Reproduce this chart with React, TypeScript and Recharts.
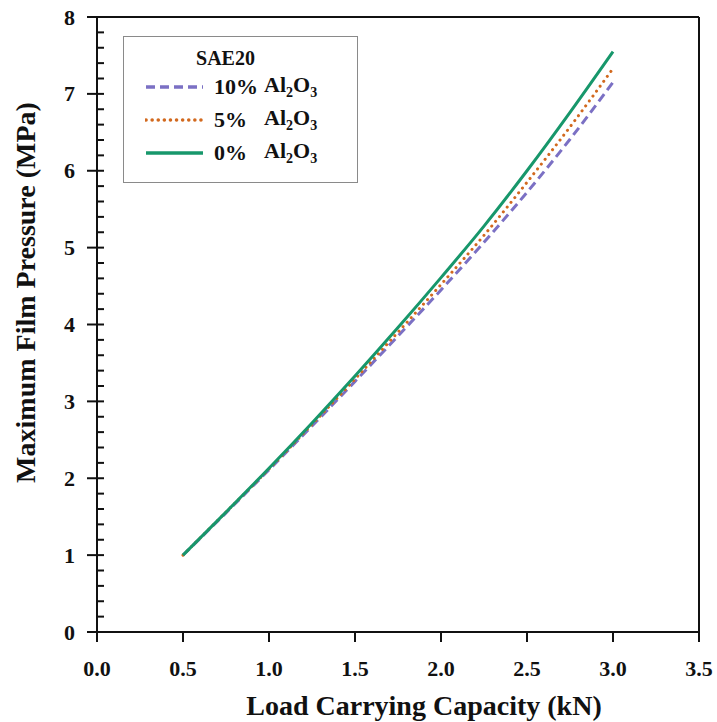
import React from 'react';
import { LineChart, Line, XAxis, YAxis, ReferenceLine } from 'recharts';

// load carrying capacity (kN)
const loads = [0.5, 0.75, 1.0, 1.25, 1.5, 1.75, 2.0, 2.25, 2.5, 2.75, 3.0];
// maximum film pressure (MPa) for each nanoparticle concentration
const p10 = [1.0, 1.55, 2.11, 2.68, 3.26, 3.85, 4.45, 5.07, 5.72, 6.41, 7.15];
const p5 = [1.0, 1.56, 2.12, 2.7, 3.29, 3.9, 4.52, 5.16, 5.85, 6.57, 7.33];
const p0 = [1.0, 1.56, 2.13, 2.72, 3.33, 3.96, 4.61, 5.28, 6.0, 6.76, 7.55];

const xTicks = [0, 0.5, 1.0, 1.5, 2.0, 2.5, 3.0, 3.5];
// y ticks every 0.2, labelled at whole numbers
const yTicks = [
  0, 0.2, 0.4, 0.6, 0.8, 1, 1.2, 1.4, 1.6, 1.8, 2, 2.2, 2.4, 2.6, 2.8, 3, 3.2, 3.4, 3.6, 3.8, 4,
  4.2, 4.4, 4.6, 4.8, 5, 5.2, 5.4, 5.6, 5.8, 6, 6.2, 6.4, 6.6, 6.8, 7, 7.2, 7.4, 7.6, 7.8, 8,
];

const seriesNames = ['10%', '5%', '0%'];
const colors = ['#7b70c4', '#d2691e', '#17976b'];
const dashes = ['9 5', '0.1 6', undefined];

const data = loads.map((load, i) => ({ load, p10: p10[i], p5: p5[i], p0: p0[i] }));

const FONT = '"Liberation Serif", "Times New Roman", serif';
const AXIS = '#111';
const TICK_SIZE = 10;
const TICK_MARGIN = 12;

function LegendBox() {
  return (
    <div
      style={{
        position: 'absolute',
        left: 123,
        top: 36,
        width: 235,
        height: 147,
        border: '1px solid #8a8a8a',
        boxSizing: 'border-box',
        fontFamily: FONT,
        fontWeight: 'bold',
        color: '#111',
        background: '#fff',
      }}
    >
      <div style={{ fontSize: 20, textAlign: 'center', paddingTop: 9, paddingRight: 30, lineHeight: '24px' }}>
        SAE20
      </div>
      {seriesNames.map((name, i) => (
        <div key={name} style={{ display: 'flex', alignItems: 'center', height: 33 }}>
          <svg width={60} height={10} style={{ marginLeft: 21 }}>
            <line
              x1={1}
              y1={5}
              x2={58}
              y2={5}
              stroke={colors[i]}
              strokeWidth={3.5}
              strokeDasharray={dashes[i]}
              strokeLinecap={i === 1 ? 'round' : 'butt'}
            />
          </svg>
          <span style={{ fontSize: 22, marginLeft: 9, width: 50, display: 'inline-block' }}>{name}</span>
          <span style={{ fontSize: 22 }}>
            Al<sub style={{ fontSize: 14 }}>2</sub>O<sub style={{ fontSize: 14 }}>3</sub>
          </span>
        </div>
      ))}
    </div>
  );
}

// draws the y tick line itself: whole numbers get a crossing tick and a label, the rest a short inner tick
const YTick = ({ x, y, payload }: any) => {
  const axisX = x + TICK_SIZE + TICK_MARGIN;
  const major = Math.abs(payload.value - Math.round(payload.value)) < 1e-6;
  return (
    <g>
      {major ? (
        <line x1={axisX - TICK_SIZE} y1={y} x2={axisX + 7} y2={y} stroke={AXIS} strokeWidth={2} />
      ) : (
        <line x1={axisX} y1={y} x2={axisX + 7} y2={y} stroke={AXIS} strokeWidth={2} />
      )}
      {major && (
        <text
          x={x}
          y={y}
          textAnchor="end"
          dominantBaseline="central"
          fill="#111"
          fontSize={22}
          fontWeight="bold"
          fontFamily={FONT}
        >
          {Math.round(payload.value)}
        </text>
      )}
    </g>
  );
};

const XLabel = ({ viewBox }: any) => (
  <text
    x={viewBox.x + viewBox.width / 2 + 26}
    y={viewBox.y + 83}
    textAnchor="middle"
    fill="#111"
    fontSize={28}
    fontWeight="bold"
    fontFamily={FONT}
  >
    Load Carrying Capacity (kN)
  </text>
);

const YLabel = ({ viewBox }: any) => {
  const cx = viewBox.x + 25;
  const cy = viewBox.y + viewBox.height / 2 - 32;
  return (
    <text
      x={cx}
      y={cy}
      transform={`rotate(-90, ${cx}, ${cy})`}
      textAnchor="middle"
      dominantBaseline="central"
      fill="#111"
      fontSize={28}
      fontWeight="bold"
      fontFamily={FONT}
    >
      Maximum Film Pressure (MPa)
    </text>
  );
};

export default function App() {
  return (
    <div style={{ position: 'absolute', left: 0, top: 0, background: '#fff' }}>
      <LineChart width={717} height={722} data={data} margin={{ top: 17, right: 18, left: 0, bottom: 0 }}>
        <XAxis
          dataKey="load"
          type="number"
          domain={[0, 3.5]}
          ticks={xTicks}
          tickFormatter={(v: number) => v.toFixed(1)}
          height={90}
          axisLine={{ stroke: AXIS, strokeWidth: 2 }}
          tickLine={{ stroke: AXIS, strokeWidth: 2 }}
          tickSize={10}
          tickMargin={18}
          tick={{ fill: '#111', fontSize: 22, fontWeight: 'bold', fontFamily: FONT }}
          label={<XLabel />}
        />
        <YAxis
          type="number"
          domain={[0, 8]}
          ticks={yTicks}
          interval={0}
          width={97}
          axisLine={{ stroke: AXIS, strokeWidth: 2 }}
          tickLine={false}
          tickSize={TICK_SIZE}
          tickMargin={TICK_MARGIN}
          tick={<YTick />}
          label={<YLabel />}
        />
        <ReferenceLine y={8} stroke={AXIS} strokeWidth={2} />
        <ReferenceLine x={3.5} stroke={AXIS} strokeWidth={2} />
        <Line
          dataKey="p10"
          name={seriesNames[0]}
          type="monotone"
          stroke={colors[0]}
          strokeWidth={3}
          strokeDasharray={dashes[0]}
          dot={false}
          isAnimationActive={false}
        />
        <Line
          dataKey="p5"
          name={seriesNames[1]}
          type="monotone"
          stroke={colors[1]}
          strokeWidth={3}
          strokeDasharray={dashes[1]}
          strokeLinecap="round"
          dot={false}
          isAnimationActive={false}
        />
        <Line
          dataKey="p0"
          name={seriesNames[2]}
          type="monotone"
          stroke={colors[2]}
          strokeWidth={3}
          dot={false}
          isAnimationActive={false}
        />
      </LineChart>
      <LegendBox />
    </div>
  );
}
